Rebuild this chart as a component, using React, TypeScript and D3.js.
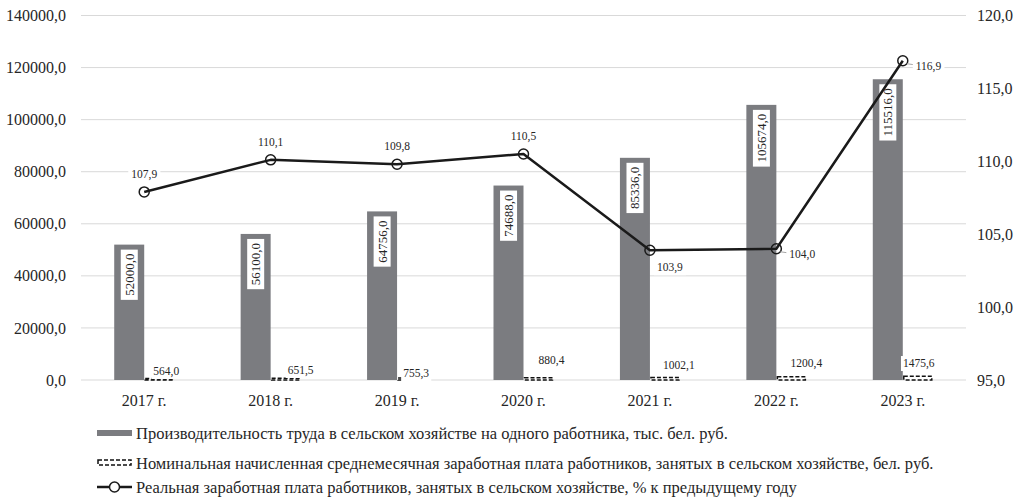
import { useEffect, useRef } from "react"
import * as d3 from "d3"

const years = ["2017 г.", "2018 г.", "2019 г.", "2020 г.", "2021 г.", "2022 г.", "2023 г."]
// Productivity per worker, thousand BYN
const productivity = [52000.0, 56100.0, 64756.0, 74688.0, 85336.0, 105674.0, 115516.0]
// Nominal average monthly wage, BYN
const nominalWage = [564.0, 651.5, 755.3, 880.4, 1002.1, 1200.4, 1475.6]
// Real wage, % to previous year
const realWage = [107.9, 110.1, 109.8, 110.5, 103.9, 104.0, 116.9]

const leftTicks = [0, 20000, 40000, 60000, 80000, 100000, 120000, 140000]
const rightTicks = [95, 100, 105, 110, 115, 120]

const legendLabels = [
  "Производительность труда в сельском хозяйстве на одного работника, тыс. бел. руб.",
  "Номинальная начисленная среднемесячная заработная плата работников, занятых в сельском хозяйстве, бел. руб.",
  "Реальная заработная плата работников, занятых в сельском хозяйстве, % к предыдущему году",
]

// label placement tweaks (dx, dy) — mimic the original layout
const wageLabelShift = [
  [7, -9], [15, -10], [4, -7], [13, -20], [14, -15], [15, -17], [1, -17],
]
const realLabelPlace = ["above", "above", "above", "above", "belowRight", "right", "right"]

const FONT = "Liberation Serif"
const BAR_COLOR = "#7b7c80"
const TEXT = "#262626"
const fmt = (v: number) => v.toFixed(1).replace(".", ",")

const App = () => {
  const svgRef = useRef<SVGSVGElement | null>(null)

  useEffect(() => {
    if (!svgRef.current) return
    const svg = d3.select(svgRef.current)
    svg.selectAll("*").remove()

    const plot = { left: 81, right: 966, top: 15.5, bottom: 380 }

    const x = d3.scaleBand().domain(years).range([plot.left, plot.right])
    const yL = d3.scaleLinear().domain([0, 140000]).range([plot.bottom, plot.top])
    const yR = d3.scaleLinear().domain([95, 120]).range([plot.bottom, plot.top])
    const cx = (i: number) => x(years[i])! + x.bandwidth() / 2
    const barW = 30

    // Grid lines
    svg.append("g")
      .selectAll("line")
      .data(leftTicks)
      .join("line")
      .attr("x1", plot.left)
      .attr("x2", plot.right)
      .attr("y1", (d) => yL(d))
      .attr("y2", (d) => yL(d))
      .attr("stroke", "#d9d9d9")
      .attr("stroke-width", 1)

    // Left axis labels
    svg.append("g")
      .selectAll("text")
      .data(leftTicks)
      .join("text")
      .attr("x", 66)
      .attr("y", (d) => yL(d))
      .attr("dy", "0.35em")
      .attr("text-anchor", "end")
      .style("font-family", FONT)
      .style("font-size", "16px")
      .attr("fill", TEXT)
      .text((d) => fmt(d))

    // Right axis labels
    svg.append("g")
      .selectAll("text")
      .data(rightTicks)
      .join("text")
      .attr("x", 977)
      .attr("y", (d) => yR(d))
      .attr("dy", "0.35em")
      .attr("text-anchor", "start")
      .style("font-family", FONT)
      .style("font-size", "16px")
      .attr("fill", TEXT)
      .text((d) => fmt(d))

    // Category labels
    svg.append("g")
      .selectAll("text")
      .data(years)
      .join("text")
      .attr("x", (_, i) => cx(i))
      .attr("y", 406)
      .attr("text-anchor", "middle")
      .style("font-family", FONT)
      .style("font-size", "16px")
      .attr("fill", TEXT)
      .text((d) => d)

    // Productivity bars
    svg.append("g")
      .selectAll("rect")
      .data(productivity)
      .join("rect")
      .attr("x", (_, i) => cx(i) - barW)
      .attr("y", (d) => yL(d))
      .attr("width", barW)
      .attr("height", (d) => plot.bottom - yL(d))
      .attr("fill", BAR_COLOR)

    // Nominal wage bars (dashed outline)
    svg.append("g")
      .selectAll("rect")
      .data(nominalWage)
      .join("rect")
      .attr("x", (_, i) => cx(i) + 1)
      .attr("y", (d) => yL(d))
      .attr("width", barW - 2)
      .attr("height", (d) => plot.bottom - yL(d))
      .attr("fill", "white")
      .attr("stroke", "#111")
      .attr("stroke-width", 1.5)
      .attr("stroke-dasharray", "4,2")

    // helper: text with white background box
    const boxedText = (
      g: d3.Selection<SVGGElement, unknown, null, undefined>,
      tx: number,
      ty: number,
      label: string,
      size: number,
      anchor: string,
      rotate = false,
      pad = 2,
    ) => {
      const grp = g.append("g").attr("transform", `translate(${tx},${ty})${rotate ? " rotate(-90)" : ""}`)
      const bg = grp.append("rect").attr("fill", "white")
      const t = grp
        .append("text")
        .attr("text-anchor", anchor)
        .attr("dy", "0.35em")
        .style("font-family", FONT)
        .style("font-size", `${size}px`)
        .attr("fill", TEXT)
        .text(label)
      const bb = (t.node() as SVGTextElement).getBBox()
      bg.attr("x", bb.x - pad)
        .attr("y", bb.y - 1)
        .attr("width", bb.width + pad * 2)
        .attr("height", bb.height + 2)
    }

    const labels = svg.append("g")

    // Productivity labels, rotated inside bars
    productivity.forEach((v, i) => {
      boxedText(labels, cx(i) - barW / 2, yL(v) + 9, fmt(v), 13, "end", true, 4)
    })

    // Nominal wage labels
    nominalWage.forEach((v, i) => {
      const [dx, dy] = wageLabelShift[i]
      boxedText(labels, cx(i) + barW / 2 + dx, plot.bottom + dy, fmt(v), 11.5, "middle", false, 2)
    })

    // Real wage line
    const line = d3
      .line<number>()
      .x((_, i) => cx(i))
      .y((d) => yR(d))

    svg.append("path")
      .datum(realWage)
      .attr("fill", "none")
      .attr("stroke", "#1a1a1a")
      .attr("stroke-width", 2.5)
      .attr("stroke-linejoin", "round")
      .attr("d", line)

    svg.append("g")
      .selectAll("circle")
      .data(realWage)
      .join("circle")
      .attr("cx", (_, i) => cx(i))
      .attr("cy", (d) => yR(d))
      .attr("r", 5)
      .attr("fill", "none")
      .attr("stroke", "#1a1a1a")
      .attr("stroke-width", 1.5)

    // Real wage labels
    const lineLabels = svg.append("g")
    realWage.forEach((v, i) => {
      const px = cx(i)
      const py = yR(v)
      const place = realLabelPlace[i]
      if (place === "above") {
        boxedText(lineLabels, px, py - 18, fmt(v), 11.5, "middle", false, 3)
      } else if (place === "belowRight") {
        boxedText(lineLabels, px + 20, py + 17, fmt(v), 11.5, "middle", false, 3)
      } else {
        lineLabels.append("line")
          .attr("x1", px + 4)
          .attr("x2", px + 11)
          .attr("y1", py + 3)
          .attr("y2", py + 4)
          .attr("stroke", "#a6a6a6")
          .attr("stroke-width", 1)
        boxedText(lineLabels, px + 13, py + 5, fmt(v), 11.5, "start", false, 3)
      }
    })

    // Legend
    const legend = svg.append("g")
    const lx = 97
    const rows = [433, 463, 487]
    const lw = 35

    legend.append("rect")
      .attr("x", lx)
      .attr("y", rows[0] - 3)
      .attr("width", lw)
      .attr("height", 6)
      .attr("fill", BAR_COLOR)

    legend.append("rect")
      .attr("x", lx + 1)
      .attr("y", rows[1] - 3)
      .attr("width", lw - 2)
      .attr("height", 5)
      .attr("fill", "white")
      .attr("stroke", "#111")
      .attr("stroke-width", 1.5)
      .attr("stroke-dasharray", "4,2")

    legend.append("line")
      .attr("x1", lx)
      .attr("x2", lx + lw)
      .attr("y1", rows[2])
      .attr("y2", rows[2])
      .attr("stroke", "#1a1a1a")
      .attr("stroke-width", 2.5)
    legend.append("circle")
      .attr("cx", lx + lw / 2)
      .attr("cy", rows[2])
      .attr("r", 5)
      .attr("fill", "white")
      .attr("stroke", "#1a1a1a")
      .attr("stroke-width", 1.5)

    legend.selectAll("text.lg")
      .data(legendLabels)
      .join("text")
      .attr("class", "lg")
      .attr("x", lx + lw + 4)
      .attr("y", (_, i) => rows[i])
      .attr("dy", "0.35em")
      .style("font-family", FONT)
      .style("font-size", "16.5px")
      .attr("fill", TEXT)
      .text((d) => d)
  }, [])

  return (
    <div style={{ position: "absolute", left: 0, top: 0, width: 1022, height: 501, background: "white" }}>
      <svg ref={svgRef} width={1022} height={501} style={{ fontFamily: FONT }} />
    </div>
  )
}

export default App
